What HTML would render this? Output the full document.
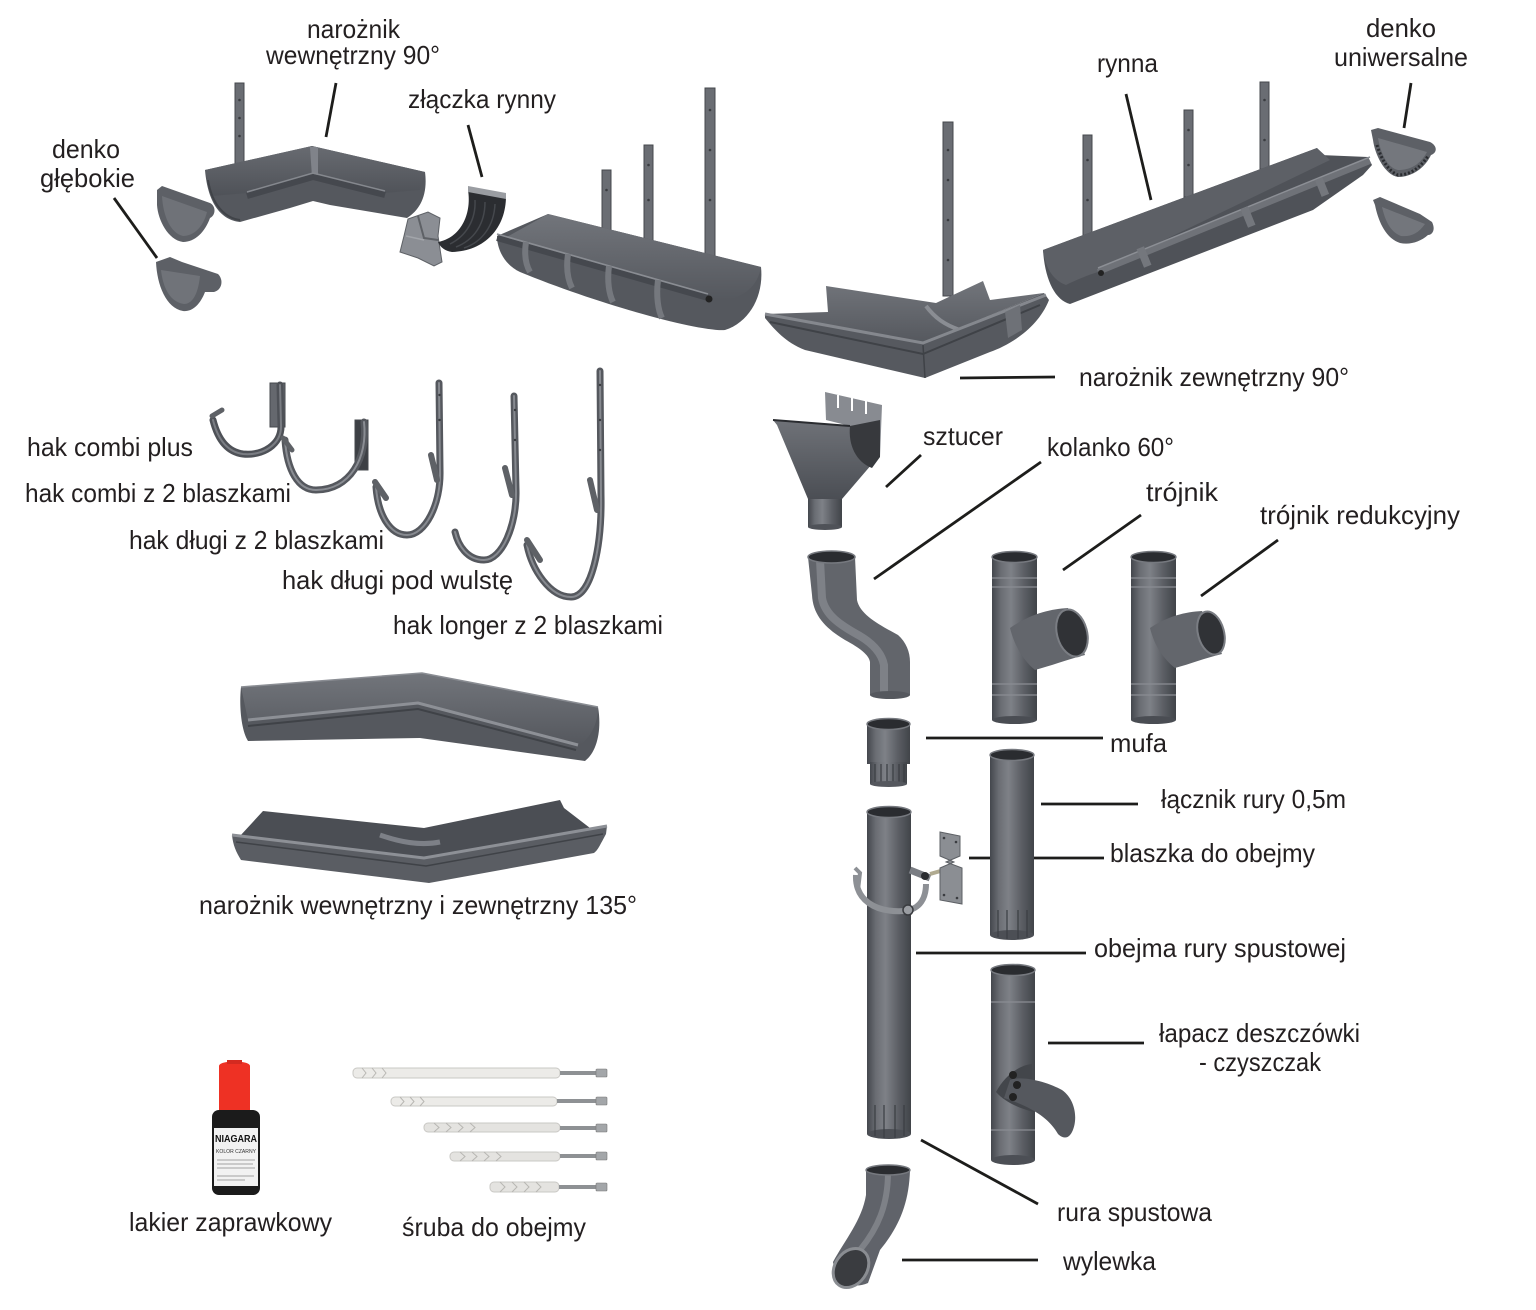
<!DOCTYPE html>
<html><head><meta charset="utf-8"><style>
html,body{margin:0;padding:0;background:#fff;}
svg{display:block;}
text{font-family:"Liberation Sans",sans-serif;font-size:26px;fill:#231f20;}
</style></head><body>
<svg width="1536" height="1310" viewBox="0 0 1536 1310" xmlns="http://www.w3.org/2000/svg">
<defs>
<linearGradient id="pv" x1="0" x2="1" y1="0" y2="0">
<stop offset="0" stop-color="#44474d"/>
<stop offset="0.2" stop-color="#6a6d73"/>
<stop offset="0.42" stop-color="#7e8187"/>
<stop offset="0.72" stop-color="#5b5e64"/>
<stop offset="1" stop-color="#414449"/>
</linearGradient>
<linearGradient id="gv" x1="0" x2="0" y1="0" y2="1">
<stop offset="0" stop-color="#6f7278"/>
<stop offset="1" stop-color="#4b4e54"/>
</linearGradient>
<linearGradient id="gin" x1="0" x2="0" y1="0" y2="1">
<stop offset="0" stop-color="#72757b"/>
<stop offset="1" stop-color="#55585e"/>
</linearGradient>
<linearGradient id="gin2" x1="0" x2="0" y1="0" y2="1">
<stop offset="0" stop-color="#686b71"/>
<stop offset="1" stop-color="#4f5258"/>
</linearGradient>
</defs>

<!-- ================= LABELS ================= -->
<text x="307" y="38" textLength="93" lengthAdjust="spacingAndGlyphs">narożnik</text>
<text x="266" y="64" textLength="174" lengthAdjust="spacingAndGlyphs">wewnętrzny 90°</text>
<text x="408" y="108" textLength="148" lengthAdjust="spacingAndGlyphs">złączka rynny</text>
<text x="52" y="158" textLength="68" lengthAdjust="spacingAndGlyphs">denko</text>
<text x="40" y="187" textLength="95" lengthAdjust="spacingAndGlyphs">głębokie</text>
<text x="1097" y="72" textLength="61" lengthAdjust="spacingAndGlyphs">rynna</text>
<text x="1366" y="37" textLength="70" lengthAdjust="spacingAndGlyphs">denko</text>
<text x="1334" y="66" textLength="134" lengthAdjust="spacingAndGlyphs">uniwersalne</text>
<text x="1079" y="386" textLength="270" lengthAdjust="spacingAndGlyphs">narożnik zewnętrzny 90°</text>
<text x="27" y="456" textLength="166" lengthAdjust="spacingAndGlyphs">hak combi plus</text>
<text x="25" y="502" textLength="266" lengthAdjust="spacingAndGlyphs">hak combi z 2 blaszkami</text>
<text x="129" y="549" textLength="255" lengthAdjust="spacingAndGlyphs">hak długi z 2 blaszkami</text>
<text x="282" y="589" textLength="231" lengthAdjust="spacingAndGlyphs">hak długi pod wulstę</text>
<text x="393" y="634" textLength="270" lengthAdjust="spacingAndGlyphs">hak longer z 2 blaszkami</text>
<text x="199" y="914" textLength="438" lengthAdjust="spacingAndGlyphs">narożnik wewnętrzny i zewnętrzny 135°</text>
<text x="923" y="445" textLength="80" lengthAdjust="spacingAndGlyphs">sztucer</text>
<text x="1047" y="456" textLength="127" lengthAdjust="spacingAndGlyphs">kolanko 60°</text>
<text x="1146" y="501" textLength="72" lengthAdjust="spacingAndGlyphs">trójnik</text>
<text x="1260" y="524" textLength="200" lengthAdjust="spacingAndGlyphs">trójnik redukcyjny</text>
<text x="1110" y="752" textLength="57" lengthAdjust="spacingAndGlyphs">mufa</text>
<text x="1161" y="808" textLength="185" lengthAdjust="spacingAndGlyphs">łącznik rury 0,5m</text>
<text x="1110" y="862" textLength="205" lengthAdjust="spacingAndGlyphs">blaszka do obejmy</text>
<text x="1094" y="957" textLength="252" lengthAdjust="spacingAndGlyphs">obejma rury spustowej</text>
<text x="1159" y="1042" textLength="201" lengthAdjust="spacingAndGlyphs">łapacz deszczówki</text>
<text x="1199" y="1071" textLength="122" lengthAdjust="spacingAndGlyphs">- czyszczak</text>
<text x="1057" y="1221" textLength="155" lengthAdjust="spacingAndGlyphs">rura spustowa</text>
<text x="1063" y="1270" textLength="93" lengthAdjust="spacingAndGlyphs">wylewka</text>
<text x="129" y="1231" textLength="203" lengthAdjust="spacingAndGlyphs">lakier zaprawkowy</text>
<text x="402" y="1236" textLength="184" lengthAdjust="spacingAndGlyphs">śruba do obejmy</text>

<!-- ================= LEADER LINES ================= -->
<g stroke="#1d1d1b" stroke-width="2.8" fill="none">
<line x1="336" y1="83" x2="326" y2="137"/>
<line x1="468" y1="125" x2="482" y2="177"/>
<line x1="114" y1="198" x2="157" y2="258"/>
<line x1="1126" y1="94" x2="1151" y2="200"/>
<line x1="1411" y1="83" x2="1404" y2="128"/>
<line x1="960" y1="378" x2="1055" y2="377"/>
<line x1="886" y1="487" x2="921" y2="455"/>
<line x1="874" y1="579" x2="1041" y2="462"/>
<line x1="1063" y1="570" x2="1141" y2="515"/>
<line x1="1201" y1="596" x2="1278" y2="540"/>
<line x1="926" y1="738" x2="1103" y2="738"/>
<line x1="1041" y1="804" x2="1138" y2="804"/>
<line x1="969" y1="858" x2="1104" y2="858"/>
<line x1="916" y1="953" x2="1086" y2="953"/>
<line x1="1048" y1="1043" x2="1144" y2="1043"/>
<line x1="921" y1="1140" x2="1038" y2="1204"/>
<line x1="902" y1="1260" x2="1038" y2="1260"/>
</g>

<!-- ================= TOP: inner corner 90 ================= -->
<rect x="235" y="83" width="9" height="95" fill="#6a6d73" stroke="#45484d" stroke-width="1"/>
<g fill="#3a3c40"><circle cx="239.5" cy="100" r="1.3"/><circle cx="239.5" cy="118" r="1.3"/><circle cx="239.5" cy="136" r="1.3"/></g>
<path d="M205,170 L312,146 L425,172 C428,195 420,210 407,218 L330,205 L313,201 L290,208 L240,222 C222,220 208,205 205,170 Z" fill="#55585e"/>
<path d="M205,170 L312,146 L425,172 L420,190 L385,193 L315,175 L248,193 L212,196 Z" fill="url(#gin2)"/>
<path d="M310,147 L318,147 L318,176 L312,177 Z" fill="#80838a"/>
<path d="M247,196 L313,177 L385,195" stroke="#45484e" stroke-width="6" fill="none"/>
<path d="M247,192 L313,173 L385,191" stroke="#85888e" stroke-width="1.5" fill="none"/>
<path d="M208,180 C212,205 225,218 240,220" stroke="#404348" stroke-width="2" fill="none"/>

<!-- denko głębokie -->
<path d="M157,190 L162,186 L210,203 C216,206 216,215 210,218 C205,232 195,242 183,242 C168,240 158,220 157,205 Z" fill="#5d6066"/>
<path d="M162,196 L207,212 C203,228 193,236 183,236 C170,233 163,215 162,196 Z" fill="#6f7278"/>
<path d="M156,262 L170,257 L182,262 L200,268 L218,274 C224,280 222,290 214,292 L205,292 C200,305 192,312 183,311 C166,308 157,285 156,262 Z" fill="#5d6066"/>
<path d="M161,270 L200,276 C198,295 192,304 184,304 C170,302 163,288 161,270 Z" fill="#707379"/>

<!-- złączka -->
<path d="M400,252 L404,236 L408,219 L428,212 L440,218 L438,236 L442,262 L434,266 L418,258 Z" fill="#8b8e94" stroke="#5e6166" stroke-width="1"/>
<path d="M418,216 L424,238 L438,240" stroke="#5e6166" stroke-width="2" fill="none"/>
<path d="M406,236 L424,240" stroke="#a2a5aa" stroke-width="1.5" fill="none"/>
<path d="M468,190 L506,196 C506,228 485,251 452,252 C445,251 440,247 438,242 C460,238 472,215 468,190 Z" fill="#2b2d31"/>
<path d="M475,200 C476,220 466,236 450,244 M485,202 C485,224 474,240 456,247 M495,204 C494,226 482,242 464,248" stroke="#45484d" stroke-width="1.5" fill="none"/>
<path d="M468,186 L506,193 L506,199 L468,192 Z" fill="#9a9da2"/>

<!-- long gutter left -->
<rect x="602" y="170" width="9" height="64" fill="#6a6d73" stroke="#45484d" stroke-width="1"/>
<rect x="644" y="145" width="9" height="100" fill="#6a6d73" stroke="#45484d" stroke-width="1"/>
<rect x="705" y="88" width="10" height="172" fill="#6a6d73" stroke="#45484d" stroke-width="1"/>
<g fill="#3a3c40"><circle cx="606.5" cy="190" r="1.3"/><circle cx="648.5" cy="165" r="1.3"/><circle cx="648.5" cy="200" r="1.3"/><circle cx="710" cy="110" r="1.3"/><circle cx="710" cy="150" r="1.3"/><circle cx="710" cy="200" r="1.3"/></g>
<path d="M497,236 L548,214 L761,267 C764,295 750,322 725,330 C700,332 600,305 520,272 C505,265 497,250 497,236 Z" fill="#55585e"/>
<path d="M548,214 L761,267 C758,285 745,297 725,300 L708,298 L505,238 Z" fill="url(#gin)"/>
<path d="M497,238 L708,298" stroke="#45484e" stroke-width="6"/>
<path d="M497,234 L708,294" stroke="#8a8d93" stroke-width="1.6"/>
<circle cx="709" cy="299" r="3.5" fill="#222"/>
<g stroke="#75787e" stroke-width="6" fill="none">
<path d="M526,242 C524,255 526,265 530,272"/>
<path d="M568,254 C566,268 568,280 572,288"/>
<path d="M609,266 C607,281 609,294 613,302"/>
<path d="M658,280 C656,296 658,310 662,318"/>
</g>

<!-- outer corner 90 -->
<rect x="943" y="122" width="10" height="174" fill="#6a6d73" stroke="#45484d" stroke-width="1"/>
<g fill="#3a3c40"><circle cx="948" cy="150" r="1.3"/><circle cx="948" cy="180" r="1.3"/><circle cx="948" cy="220" r="1.3"/><circle cx="948" cy="260" r="1.3"/></g>
<path d="M826,286 L936,303 L983,281 L990,300 L1044,293 L923,343 L765,314 L828,312 Z" fill="url(#gin)"/>
<path d="M926,306 C935,318 945,325 960,330" stroke="#8a8d93" stroke-width="4" fill="none"/>
<path d="M765,314 L923,343 L1044,293 L1049,300 C1038,328 1010,345 990,352 L925,378 L805,350 C785,342 775,330 765,318 Z" fill="#56595f"/>
<path d="M765,314 L923,343 L1046,295" stroke="#85888e" stroke-width="3" fill="none"/>
<path d="M770,322 L923,354 L1040,305" stroke="#3f4247" stroke-width="2" fill="none"/>
<path d="M923,345 L925,378" stroke="#3f4247" stroke-width="1.5"/>
<path d="M1005,312 L1020,305 L1022,330 L1008,338 Z" fill="#6e7177"/>

<!-- right gutter -->
<rect x="1083" y="135" width="9" height="102" fill="#6a6d73" stroke="#45484d" stroke-width="1"/>
<rect x="1184" y="110" width="9" height="87" fill="#6a6d73" stroke="#45484d" stroke-width="1"/>
<rect x="1260" y="82" width="9" height="87" fill="#6a6d73" stroke="#45484d" stroke-width="1"/>
<g fill="#3a3c40"><circle cx="1087.5" cy="160" r="1.3"/><circle cx="1087.5" cy="200" r="1.3"/><circle cx="1188.5" cy="130" r="1.3"/><circle cx="1188.5" cy="165" r="1.3"/><circle cx="1264.5" cy="100" r="1.3"/><circle cx="1264.5" cy="140" r="1.3"/></g>
<path d="M1043,250 L1317,148 L1320,155 L1368,157 L1372,165 L1363,175 L1313,210 L1070,304 C1055,300 1045,280 1043,250 Z" fill="#4f5258"/>
<path d="M1043,250 L1317,148 L1330,160 L1098,272 C1085,276 1072,282 1066,285 C1052,280 1045,266 1043,250 Z" fill="#5d6066"/>
<path d="M1098,272 L1370,161" stroke="#6f7278" stroke-width="6"/>
<path d="M1098,268 L1370,157" stroke="#8c8f95" stroke-width="1.5"/>
<circle cx="1101" cy="273" r="3" fill="#222"/>
<g fill="#74777d"><rect x="1140" y="247" width="8" height="20" transform="rotate(-22 1144 257)"/><rect x="1244" y="207" width="8" height="20" transform="rotate(-22 1248 217)"/><rect x="1318" y="178" width="8" height="18" transform="rotate(-22 1322 187)"/></g>

<!-- denko uniwersalne -->
<path d="M1371,130 L1378,128 L1430,142 C1438,146 1437,153 1431,155 C1425,168 1412,177 1398,177 C1385,175 1375,155 1373,140 Z" fill="#5d6066"/>
<path d="M1378,138 L1427,152 C1420,165 1410,170 1398,170 C1388,168 1381,155 1378,138 Z" fill="#74777d"/>
<path d="M1377,145 C1382,162 1390,172 1398,175 C1410,175 1420,168 1428,156" stroke="#2a2c30" stroke-width="3" stroke-dasharray="2 2" fill="none"/>
<path d="M1373,200 L1380,197 L1420,214 L1432,222 C1436,230 1432,235 1428,235 C1420,242 1410,245 1400,243 C1385,238 1378,220 1375,205 Z" fill="#5d6066"/>
<path d="M1382,207 L1425,224 C1418,234 1410,237 1401,236 C1390,232 1385,220 1382,207 Z" fill="#73767c"/>

<!-- ================= HOOKS ================= -->
<g fill="none" stroke-linecap="round">
<rect x="270" y="383" width="15" height="44" fill="#65686e" stroke="#45484d" stroke-width="1"/>
<path d="M280,385 L281,425 C282,445 262,456 243,454 C228,452 218,440 213,420" stroke="#4e5157" stroke-width="7"/>
<path d="M280,385 L281,425 C282,445 262,456 243,454 C228,452 218,440 213,420" stroke="#7a7d83" stroke-width="2"/>
<path d="M212,416 L222,410" stroke="#5e6166" stroke-width="5"/>

<rect x="355" y="420" width="13" height="50" fill="#3d4045" stroke="#45484d" stroke-width="1"/>
<path d="M364,422 C368,458 350,490 316,490 C298,490 287,470 285,440" stroke="#55585e" stroke-width="7"/>
<path d="M364,422 C368,458 350,490 316,490 C298,490 287,470 285,440" stroke="#8a8d93" stroke-width="2"/>
<path d="M283,438 L292,450" stroke="#5e6166" stroke-width="5"/>

<path d="M439,383 L440,470 C441,505 425,535 407,535 C390,535 378,515 376,487" stroke="#55585e" stroke-width="7"/>
<path d="M439,383 L440,470 C441,505 425,535 407,535 C390,535 378,515 376,487" stroke="#878a90" stroke-width="2"/>
<path d="M431,455 L437,480" stroke="#5e6166" stroke-width="6"/>
<path d="M375,482 L386,498" stroke="#5e6166" stroke-width="6"/>

<path d="M514,396 L516,490 C517,525 502,560 484,560 C467,560 458,545 455,532" stroke="#55585e" stroke-width="7"/>
<path d="M514,396 L516,490 C517,525 502,560 484,560 C467,560 458,545 455,532" stroke="#878a90" stroke-width="2"/>
<path d="M505,468 L512,495" stroke="#5e6166" stroke-width="6"/>

<path d="M600,371 L601,495 C602,545 592,597 571,597 C550,597 532,570 527,545" stroke="#55585e" stroke-width="7"/>
<path d="M600,371 L601,495 C602,545 592,597 571,597 C550,597 532,570 527,545" stroke="#878a90" stroke-width="2"/>
<path d="M590,480 L597,510" stroke="#5e6166" stroke-width="6"/>
<path d="M527,540 L540,560" stroke="#5e6166" stroke-width="6"/>
</g>
<g fill="#3a3c40"><circle cx="439.5" cy="395" r="1.2"/><circle cx="439.5" cy="420" r="1.2"/><circle cx="515" cy="410" r="1.2"/><circle cx="515" cy="440" r="1.2"/><circle cx="600" cy="385" r="1.2"/><circle cx="600" cy="420" r="1.2"/><circle cx="600" cy="450" r="1.2"/></g>

<!-- ================= 135 corners ================= -->
<path d="M241,687 L422,673 L598,707 C602,730 597,752 585,761 L420,738 L248,741 C241,730 239,705 241,687 Z" fill="#55585e"/>
<path d="M241,687 L422,673 L598,707 C598,722 592,736 580,745 L418,703 L248,720 Z" fill="url(#gin)"/>
<path d="M248,720 L418,703 L578,745" stroke="#8d9096" stroke-width="3" fill="none"/>
<path d="M248,726 L418,709 L576,750" stroke="#3f4247" stroke-width="2" fill="none"/>
<path d="M241,687 L422,673 L598,707" stroke="#8a8d93" stroke-width="1.5" fill="none"/>

<path d="M263,811 L424,828 L560,800 L564,808 L590,828 L424,858 L240,836 Z" fill="#4b4e54"/>
<path d="M380,835 C400,842 420,846 440,842" stroke="#8a8d93" stroke-width="5" fill="none" opacity="0.8"/>
<path d="M232,835 L424,858 L607,826 L606,834 C600,845 598,850 594,853 L429,883 L241,860 C236,852 233,845 232,835 Z" fill="#5a5d63"/>
<path d="M232,835 L424,858 L607,826" stroke="#8d9096" stroke-width="3" fill="none"/>
<path d="M236,842 L426,866 L603,834" stroke="#3f4247" stroke-width="1.5" fill="none"/>

<!-- ================= VERTICAL PARTS ================= -->
<!-- sztucer -->
<path d="M773,420 L850,426 L880,420 L878,457 L842,499 L808,499 L777,425 Z" fill="url(#gv)"/>
<path d="M825,392 L882,405 L880,457 L870,460 L850,426 L826,420 Z" fill="#888b91"/>
<path d="M850,426 C848,445 856,462 872,468 L880,457 L880,420 Z" fill="#37393d"/>
<path d="M773,420 L850,426" stroke="#2a2c30" stroke-width="2"/>
<g stroke="#fff" stroke-width="2"><line x1="838" y1="395" x2="838" y2="408"/><line x1="852" y1="398" x2="852" y2="411"/><line x1="866" y1="401" x2="866" y2="414"/></g>
<rect x="808" y="499" width="34" height="28" fill="url(#pv)"/>
<ellipse cx="825" cy="527" rx="17" ry="3" fill="#4f5258"/>

<!-- kolanko -->
<path d="M808,557 L855,557 L857,600 C860,615 880,625 898,635 C906,642 910,652 910,662 L910,695 L870,695 L870,662 C869,655 860,648 845,640 C825,628 813,615 812,595 Z" fill="#62656b"/>
<path d="M820,560 L822,598 C825,615 840,625 860,636 C875,645 882,655 884,665 L884,695" stroke="#7e8187" stroke-width="8" fill="none"/>
<ellipse cx="831.5" cy="557" rx="23.5" ry="6" fill="#2a2c30" stroke="#76797f" stroke-width="1.5"/>
<ellipse cx="890" cy="695" rx="20" ry="4" fill="#55585e"/>

<!-- trójnik -->
<rect x="992" y="557" width="45" height="163" fill="url(#pv)"/>
<ellipse cx="1014.5" cy="720" rx="22.5" ry="4" fill="#4a4d53"/>
<g stroke="#8a8d93" stroke-width="1.2"><line x1="992" y1="578" x2="1037" y2="578"/><line x1="992" y1="587" x2="1037" y2="587"/><line x1="992" y1="684" x2="1037" y2="684"/><line x1="992" y1="695" x2="1037" y2="695"/></g>
<path d="M1010,628 C1030,614 1050,609 1068,608 L1085,655 C1066,660 1050,666 1035,670 C1025,662 1015,648 1010,628 Z" fill="#63666c"/>
<ellipse cx="1072" cy="633" rx="15" ry="24" transform="rotate(-15 1072 633)" fill="#303236" stroke="#7a7d83" stroke-width="2"/>
<ellipse cx="1014.5" cy="557" rx="22.5" ry="5.5" fill="#2a2c30" stroke="#76797f" stroke-width="1.5"/>

<!-- trójnik redukcyjny -->
<rect x="1131" y="557" width="45" height="163" fill="url(#pv)"/>
<ellipse cx="1153.5" cy="720" rx="22.5" ry="4" fill="#4a4d53"/>
<g stroke="#8a8d93" stroke-width="1.2"><line x1="1131" y1="578" x2="1176" y2="578"/><line x1="1131" y1="587" x2="1176" y2="587"/><line x1="1131" y1="684" x2="1176" y2="684"/><line x1="1131" y1="695" x2="1176" y2="695"/></g>
<path d="M1150,628 C1168,616 1185,612 1202,611 L1222,654 C1205,658 1190,664 1175,668 C1165,660 1155,648 1150,628 Z" fill="#63666c"/>
<ellipse cx="1211" cy="633" rx="13" ry="22" transform="rotate(-15 1211 633)" fill="#303236" stroke="#7a7d83" stroke-width="2"/>
<ellipse cx="1153.5" cy="557" rx="22.5" ry="5.5" fill="#2a2c30" stroke="#76797f" stroke-width="1.5"/>

<!-- mufa -->
<rect x="867" y="724" width="43" height="40" fill="url(#pv)"/>
<rect x="870" y="762" width="37" height="22" fill="url(#pv)"/>
<g stroke="#3a3d42" stroke-width="1.2"><line x1="875" y1="764" x2="875" y2="783"/><line x1="881" y1="764" x2="881" y2="784"/><line x1="887" y1="764" x2="887" y2="785"/><line x1="893" y1="764" x2="893" y2="785"/><line x1="899" y1="764" x2="899" y2="784"/><line x1="904" y1="764" x2="904" y2="783"/></g>
<ellipse cx="888.5" cy="784" rx="18.5" ry="3" fill="#55585e"/>
<ellipse cx="888.5" cy="724" rx="21.5" ry="5.5" fill="#2a2c30" stroke="#76797f" stroke-width="1.5"/>

<!-- łącznik -->
<rect x="990" y="755" width="44" height="180" fill="url(#pv)"/>
<ellipse cx="1012" cy="935" rx="22" ry="5" fill="#4c4f55"/>
<g stroke="#3a3d42" stroke-width="1.2"><line x1="998" y1="910" x2="998" y2="937"/><line x1="1007" y1="910" x2="1007" y2="939"/><line x1="1018" y1="910" x2="1018" y2="939"/><line x1="1027" y1="910" x2="1027" y2="937"/></g>
<ellipse cx="1012" cy="755" rx="22" ry="5.5" fill="#2a2c30" stroke="#76797f" stroke-width="1.5"/>

<!-- rura spustowa -->
<rect x="867" y="812" width="44" height="322" fill="url(#pv)"/>
<ellipse cx="889" cy="1134" rx="22" ry="5" fill="#4c4f55"/>
<g stroke="#3a3d42" stroke-width="1.2"><line x1="875" y1="1105" x2="875" y2="1136"/><line x1="884" y1="1105" x2="884" y2="1138"/><line x1="895" y1="1105" x2="895" y2="1138"/><line x1="904" y1="1105" x2="904" y2="1136"/></g>
<ellipse cx="889" cy="812" rx="22" ry="5.5" fill="#2a2c30" stroke="#76797f" stroke-width="1.5"/>

<!-- obejma -->
<path d="M856,875 C855,900 875,913 905,911 C920,909 926,898 926,884" stroke="#8d9095" stroke-width="6" fill="none"/>
<path d="M855,868 L860,873 L858,890" stroke="#8d9095" stroke-width="4" fill="none"/>
<path d="M910,870 L930,878" stroke="#7a7d83" stroke-width="7"/>
<circle cx="908" cy="910" r="5" fill="#9a9da2" stroke="#3a3c40" stroke-width="1.5"/>
<circle cx="925" cy="876" r="4" fill="#2a2c30"/>
<path d="M930,874 L944,870" stroke="#b0aa90" stroke-width="4"/>
<!-- blaszka -->
<path d="M940,832 L960,836 L960,856 L946,862 L962,868 L962,904 L940,900 L940,868 L954,862 L940,856 Z" fill="#8b8e93" stroke="#5d6065" stroke-width="1"/>
<g fill="#3a3c40"><circle cx="944" cy="838" r="1.3"/><circle cx="956" cy="842" r="1.3"/><circle cx="944" cy="895" r="1.3"/><circle cx="957" cy="898" r="1.3"/></g>

<!-- łapacz -->
<rect x="991" y="970" width="44" height="190" fill="url(#pv)"/>
<ellipse cx="1013" cy="1160" rx="22" ry="5" fill="#4c4f55"/>
<g stroke="#8a8d93" stroke-width="1.2"><line x1="991" y1="1002" x2="1035" y2="1002"/><line x1="991" y1="1130" x2="1035" y2="1130"/></g>
<path d="M996,1092 C1005,1075 1020,1065 1032,1064 L1034,1112 C1018,1108 1005,1102 996,1092 Z" fill="#43464b"/>
<path d="M1010,1080 C1022,1075 1048,1082 1062,1090 C1076,1100 1078,1120 1072,1132 C1068,1140 1062,1138 1058,1134 C1050,1120 1035,1108 1004,1098 Z" fill="#55585e"/>
<g fill="#222"><circle cx="1013" cy="1075" r="4"/><circle cx="1017" cy="1085" r="4"/><circle cx="1013" cy="1097" r="4"/></g>
<ellipse cx="1013" cy="970" rx="22" ry="5.5" fill="#2a2c30" stroke="#76797f" stroke-width="1.5"/>

<!-- wylewka -->
<path d="M866,1170 L910,1170 C909,1205 898,1228 880,1250 L868,1283 C852,1290 836,1282 833,1262 C845,1240 862,1220 866,1195 Z" fill="#60636a"/>
<path d="M888,1172 C888,1205 878,1228 860,1250" stroke="#7e8187" stroke-width="6" fill="none"/>
<ellipse cx="851" cy="1268" rx="16" ry="21" transform="rotate(35 851 1268)" fill="#3a3c40" stroke="#8a8d92" stroke-width="3"/>
<ellipse cx="888" cy="1170" rx="22" ry="5" fill="#2a2c30" stroke="#76797f" stroke-width="1.5"/>

<!-- ================= lakier ================= -->
<path d="M219,1066 C219,1060 250,1060 250,1066 L250,1112 L219,1112 Z" fill="#ee3124"/>
<rect x="227" y="1060" width="15" height="4" fill="#d42a20"/>
<rect x="212" y="1110" width="48" height="85" rx="7" fill="#1b1b1b"/>
<rect x="214" y="1128" width="44" height="58" fill="#f2f2f2"/>
<text x="215" y="1142" style="font-size:10px;font-weight:bold;fill:#111" textLength="42" lengthAdjust="spacingAndGlyphs">NIAGARA</text>
<text x="216" y="1153" style="font-size:5px;fill:#333" textLength="40" lengthAdjust="spacingAndGlyphs">KOLOR CZARNY</text>
<g stroke="#888" stroke-width="0.8"><line x1="217" y1="1160" x2="255" y2="1160"/><line x1="217" y1="1164" x2="253" y2="1164"/><line x1="217" y1="1168" x2="255" y2="1168"/><line x1="217" y1="1176" x2="254" y2="1176"/><line x1="217" y1="1180" x2="245" y2="1180"/></g>

<!-- ================= śruby ================= -->
<g>
<rect x="353" y="1068" width="207" height="10" rx="4" fill="#ecebe8" stroke="#c9c8c4" stroke-width="1"/>
<rect x="560" y="1071" width="38" height="4" fill="#8e9194"/>
<rect x="596" y="1069" width="11" height="8" rx="1" fill="#a3a6a9" stroke="#777" stroke-width="0.6"/>
<rect x="391" y="1097" width="166" height="9" rx="4" fill="#ecebe8" stroke="#c9c8c4" stroke-width="1"/>
<rect x="557" y="1099" width="41" height="4" fill="#8e9194"/>
<rect x="596" y="1097" width="11" height="8" rx="1" fill="#a3a6a9" stroke="#777" stroke-width="0.6"/>
<rect x="424" y="1123" width="136" height="9" rx="4" fill="#e4e3e0" stroke="#c9c8c4" stroke-width="1"/>
<rect x="560" y="1126" width="38" height="4" fill="#8e9194"/>
<rect x="596" y="1124" width="11" height="8" rx="1" fill="#a3a6a9" stroke="#777" stroke-width="0.6"/>
<rect x="450" y="1152" width="110" height="9" rx="4" fill="#e4e3e0" stroke="#c9c8c4" stroke-width="1"/>
<rect x="560" y="1154" width="38" height="4" fill="#8e9194"/>
<rect x="596" y="1152" width="11" height="8" rx="1" fill="#a3a6a9" stroke="#777" stroke-width="0.6"/>
<rect x="490" y="1182" width="69" height="10" rx="4" fill="#e4e3e0" stroke="#c9c8c4" stroke-width="1"/>
<rect x="559" y="1185" width="39" height="4" fill="#8e9194"/>
<rect x="596" y="1183" width="11" height="8" rx="1" fill="#a3a6a9" stroke="#777" stroke-width="0.6"/>
<g stroke="#b8b7b3" stroke-width="1" fill="none">
<path d="M362,1068 l4,5 l-4,5 M372,1068 l4,5 l-4,5 M382,1068 l4,5 l-4,5"/>
<path d="M400,1097 l4,4.5 l-4,4.5 M410,1097 l4,4.5 l-4,4.5 M420,1097 l4,4.5 l-4,4.5"/>
<path d="M434,1123 l5,4.5 l-5,4.5 M446,1123 l5,4.5 l-5,4.5 M458,1123 l5,4.5 l-5,4.5 M470,1123 l5,4.5 l-5,4.5"/>
<path d="M460,1152 l5,4.5 l-5,4.5 M472,1152 l5,4.5 l-5,4.5 M484,1152 l5,4.5 l-5,4.5 M496,1152 l5,4.5 l-5,4.5"/>
<path d="M500,1182 l5,5 l-5,5 M512,1182 l5,5 l-5,5 M524,1182 l5,5 l-5,5 M536,1182 l5,5 l-5,5"/>
</g>
</g>
</svg>
</body></html>
